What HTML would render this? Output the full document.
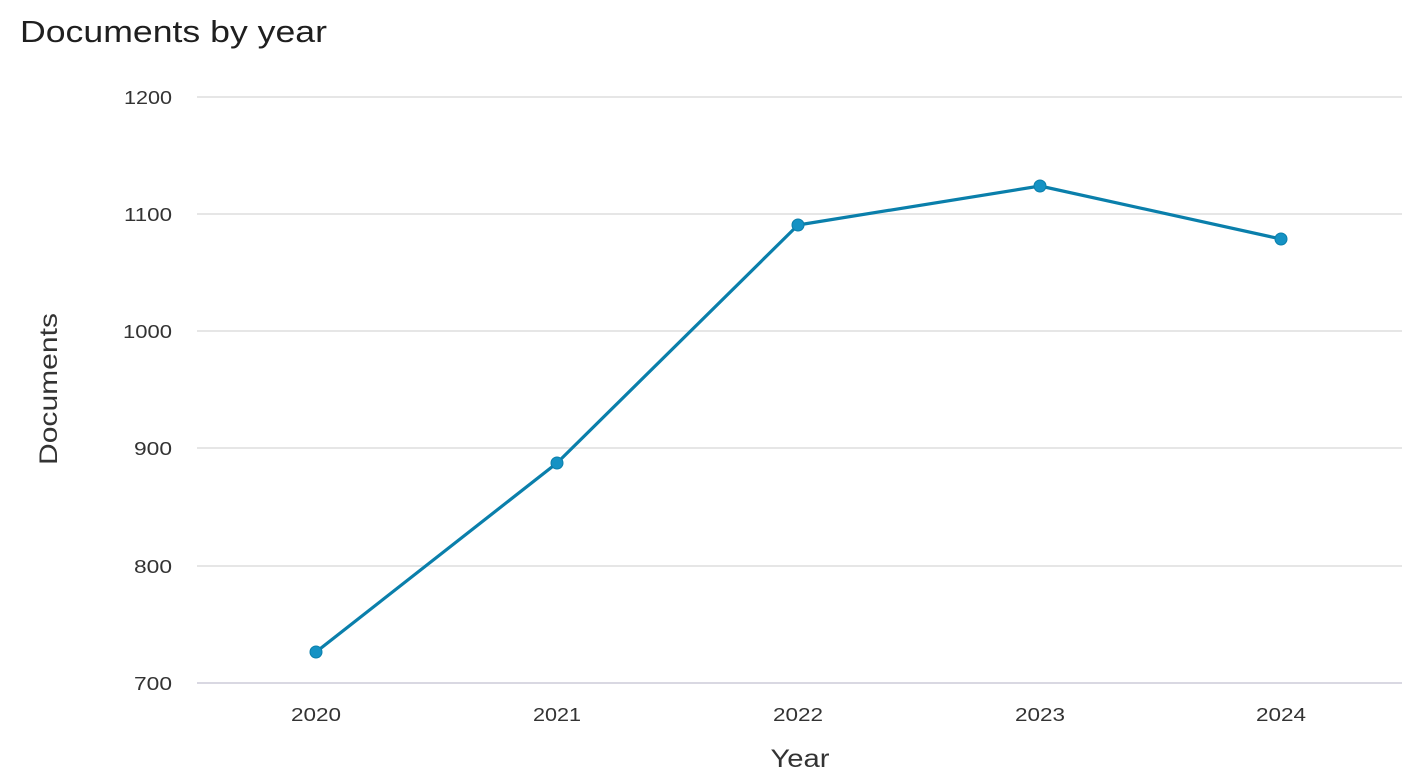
<!DOCTYPE html>
<html><head><meta charset="utf-8"><style>
html,body{margin:0;padding:0;background:#fff;}
svg{display:block;}
text{font-family:"Liberation Sans","DejaVu Sans",sans-serif;}
</style></head><body>
<svg width="1417" height="783" viewBox="0 0 1417 783" xmlns="http://www.w3.org/2000/svg">
<rect width="1417" height="783" fill="#fff"/>
<text x="20" y="42" font-size="31" fill="#1f1f1f" textLength="307" lengthAdjust="spacingAndGlyphs">Documents by year</text>
<g stroke="#e6e6e6" stroke-width="2">
<line x1="197" y1="97" x2="1402" y2="97"/>
<line x1="197" y1="214" x2="1402" y2="214"/>
<line x1="197" y1="331" x2="1402" y2="331"/>
<line x1="197" y1="448" x2="1402" y2="448"/>
<line x1="197" y1="566" x2="1402" y2="566"/>
</g>
<line x1="197" y1="683" x2="1402" y2="683" stroke="#d9d8e2" stroke-width="2"/>
<g font-size="18.5" fill="#333" text-anchor="end">
<text x="172" y="104" textLength="48" lengthAdjust="spacingAndGlyphs">1200</text>
<text x="172" y="221" textLength="48" lengthAdjust="spacingAndGlyphs">1100</text>
<text x="172" y="338" textLength="49" lengthAdjust="spacingAndGlyphs">1000</text>
<text x="172" y="455" textLength="38" lengthAdjust="spacingAndGlyphs">900</text>
<text x="172" y="573" textLength="38" lengthAdjust="spacingAndGlyphs">800</text>
<text x="172" y="690" textLength="38" lengthAdjust="spacingAndGlyphs">700</text>
</g>
<g font-size="18.5" fill="#333" text-anchor="middle">
<text x="316" y="721" textLength="50" lengthAdjust="spacingAndGlyphs">2020</text>
<text x="557" y="721" textLength="48" lengthAdjust="spacingAndGlyphs">2021</text>
<text x="798" y="721" textLength="50" lengthAdjust="spacingAndGlyphs">2022</text>
<text x="1040" y="721" textLength="50" lengthAdjust="spacingAndGlyphs">2023</text>
<text x="1281" y="721" textLength="50" lengthAdjust="spacingAndGlyphs">2024</text>
</g>
<text x="800" y="767" font-size="25" fill="#333" text-anchor="middle" textLength="59" lengthAdjust="spacingAndGlyphs">Year</text>
<text transform="translate(57,389) rotate(-90)" font-size="25" fill="#333" text-anchor="middle" textLength="152" lengthAdjust="spacingAndGlyphs">Documents</text>
<polyline points="316,652 557,463 798,225 1040,186 1281,239" fill="none" stroke="#0a7fab" stroke-width="3.2" stroke-linejoin="round"/>
<g fill="#1592c4" stroke="#0a7fab" stroke-width="1">
<circle cx="316" cy="652" r="6"/>
<circle cx="557" cy="463" r="6"/>
<circle cx="798" cy="225" r="6"/>
<circle cx="1040" cy="186" r="6"/>
<circle cx="1281" cy="239" r="6"/>
</g>
</svg>
</body></html>
